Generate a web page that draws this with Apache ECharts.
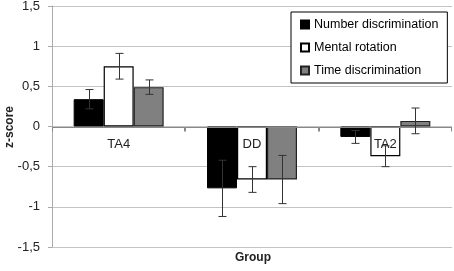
<!DOCTYPE html>
<html>
<head>
<meta charset="utf-8">
<script src="https://cdn.jsdelivr.net/npm/echarts@6/dist/echarts.min.js"></script>
<style>
  html, body { margin: 0; padding: 0; background: #fff; }
  #chart { width: 454px; height: 271px; }
</style>
</head>
<body>
<div id="chart"></div>
<script>
const groups = ['TA4', 'DD', 'TA2']
const yTicks = [-1.5, -1, -0.5, 0, 0.5, 1, 1.5]

const numberVals = [0.34, -0.77, -0.13]
const numberErr = [0.12, 0.35, 0.08]
const mentalVals = [0.75, -0.66, -0.37]
const mentalErr = [0.16, 0.16, 0.13]
const timeVals = [0.49, -0.66, 0.07]
const timeErr = [0.09, 0.30, 0.16]

const font = 'Liberation Sans'
const barW = 30

function errData(vals, errs) {
    return vals.map(function (v, i) { return [i, v, errs[i]] })
}

// whiskers, shifted by bar offset inside the category
function errRenderer(offset) {
    return function (params, api) {
        var cat = api.value(0)
        var v = api.value(1)
        var e = api.value(2)
        var hi = api.coord([cat, v + e])
        var lo = api.coord([cat, v - e])
        var x = Math.round(hi[0] + offset) + 0.5
        var cap = 4
        var style = { stroke: '#333', lineWidth: 1 }
        return {
            type: 'group',
            children: [
                { type: 'line', shape: { x1: x, y1: hi[1], x2: x, y2: lo[1] }, style: style },
                { type: 'line', shape: { x1: x - cap, y1: hi[1], x2: x + cap, y2: hi[1] }, style: style },
                { type: 'line', shape: { x1: x - cap, y1: lo[1], x2: x + cap, y2: lo[1] }, style: style }
            ]
        }
    }
}

// category axis drawn on the zero line: segment, boundary ticks and label
function zeroAxisRenderer(params, api) {
    var c = api.coord([api.value(0), 0])
    var half = api.size([1, 0])[0] / 2
    var style = { stroke: '#888', lineWidth: 1 }
    var y = Math.round(c[1]) + 0.5
    return {
        type: 'group',
        children: [
            { type: 'line', shape: { x1: c[0] - half, y1: y, x2: c[0] + half, y2: y }, style: style },
            { type: 'line', shape: { x1: Math.round(c[0] - half) + 0.5, y1: y, x2: Math.round(c[0] - half) + 0.5, y2: y + 4 }, style: style },
            { type: 'line', shape: { x1: Math.round(c[0] + half) - 0.5, y1: y, x2: Math.round(c[0] + half) - 0.5, y2: y + 4 }, style: style },
            {
                type: 'text', x: c[0], y: y + 17,
                style: { text: groups[params.dataIndex], font: '13px ' + font, fill: '#222', align: 'center', verticalAlign: 'middle' }
            }
        ]
    }
}

var myChart = echarts.init(document.getElementById('chart'))
var option = {
    animation: false,
    textStyle: { fontFamily: font },
    grid: { left: 52, right: 2, top: 6, bottom: 24, outerBoundsMode: 'none', containLabel: false },
    legend: {
        orient: 'vertical',
        left: 291,
        top: 12,
        width: 156,
        padding: [6, 9, 6, 9],
        itemGap: 10,
        itemWidth: 8,
        itemHeight: 8,
        icon: 'rect',
        borderColor: '#000',
        borderWidth: 1,
        backgroundColor: '#fff',
        textStyle: { fontFamily: font, fontSize: 12.5, color: '#000', lineHeight: 13 },
        data: ['Number discrimination', 'Mental rotation', 'Time discrimination']
    },
    xAxis: {
        type: 'category',
        data: groups,
        axisLine: { show: false },
        axisTick: { show: false },
        axisLabel: { show: false }
    },
    yAxis: {
        type: 'value',
        min: yTicks[0],
        max: yTicks[yTicks.length - 1],
        interval: 0.5,
        axisLine: { show: true, lineStyle: { color: '#aaa' } },
        axisTick: { show: true, length: 4, lineStyle: { color: '#aaa' } },
        axisLabel: {
            margin: 12,
            fontSize: 13,
            color: '#222',
            fontFamily: font,
            formatter: function (v) { return String(v).replace('.', ',') }
        },
        splitLine: { lineStyle: { color: '#c4c4c4' } }
    },
    graphic: [
        {
            type: 'text',
            x: 253,
            y: 258,
            style: { text: 'Group', font: 'bold 12px ' + font, fill: '#222', align: 'center', verticalAlign: 'middle' }
        },
        {
            type: 'text',
            x: 10,
            y: 127,
            rotation: Math.PI / 2,
            style: { text: 'z-score', font: 'bold 12px ' + font, fill: '#222', align: 'center', verticalAlign: 'middle' }
        }
    ],
    series: [
        {
            name: 'Number discrimination', type: 'bar', barWidth: barW, barGap: '0%',
            itemStyle: { color: '#000', borderColor: '#000', borderWidth: 1 },
            data: numberVals
        },
        {
            name: 'Mental rotation', type: 'bar', barWidth: barW, barGap: '0%',
            itemStyle: { color: '#fff', borderColor: '#000', borderWidth: 1.2 },
            data: mentalVals
        },
        {
            name: 'Time discrimination', type: 'bar', barWidth: barW, barGap: '0%',
            itemStyle: { color: '#808080', borderColor: '#222', borderWidth: 1.2 },
            data: timeVals
        },
        { type: 'custom', z: 3, renderItem: zeroAxisRenderer, data: groups.map(function (g, i) { return [i, 0] }) },
        { type: 'custom', z: 5, renderItem: errRenderer(-barW), data: errData(numberVals, numberErr) },
        { type: 'custom', z: 5, renderItem: errRenderer(0), data: errData(mentalVals, mentalErr) },
        { type: 'custom', z: 5, renderItem: errRenderer(barW), data: errData(timeVals, timeErr) }
    ]
}
option && myChart.setOption(option)
</script>
</body>
</html>
